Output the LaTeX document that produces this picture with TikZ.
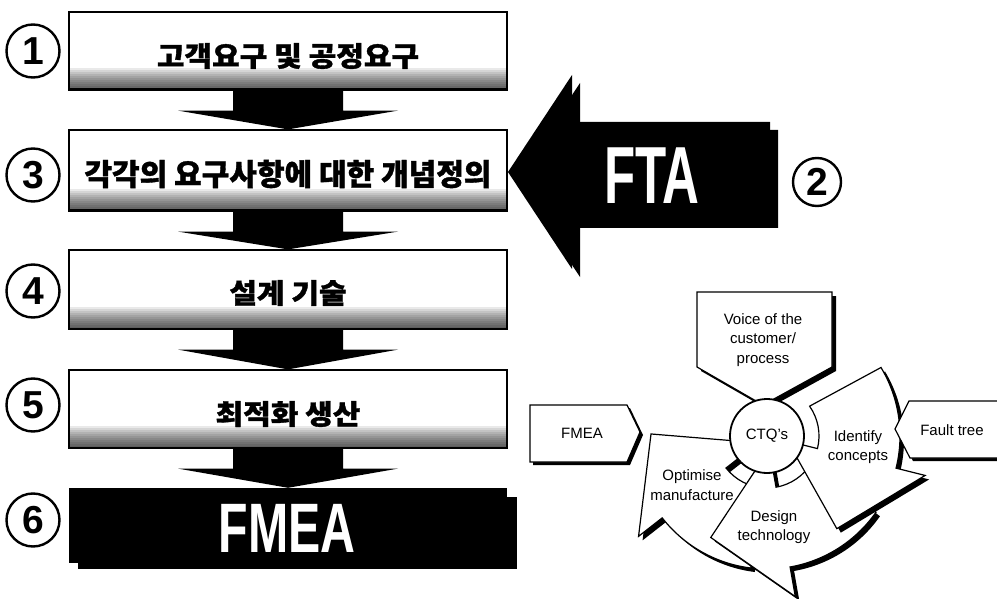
\documentclass[tikz,border=0pt]{standalone}
\usepackage{fontspec}
\setmainfont{Liberation Sans}
\newfontfamily\krfont{Noto Sans CJK KR}[BoldFeatures={FakeBold=1.2}]
\usetikzlibrary{calc}
\tikzset{
  stepbox/.style={draw, line width=1.2pt, minimum width=438pt, minimum height=78pt, inner sep=0pt,
    path picture={\foreach \k in {2,4,...,22}
        \fill[black, fill opacity=0.085] (path picture bounding box.south west)
          rectangle ($(path picture bounding box.south east)+(0,-\k)$);
      \draw[line width=3pt] (path picture bounding box.south west) -- (path picture bounding box.south east);}},
  blackbox/.style={fill=black, minimum width=438pt, minimum height=75pt, inner sep=0pt},
  krlabel/.style={font=\krfont\bfseries\fontsize{30}{34}\selectfont, inner sep=0pt},
  numcirc/.style={draw, circle, line width=2.4pt, minimum size=53pt, inner sep=0pt,
    font=\bfseries\fontsize{39}{39}\selectfont},
  bigwhite/.style={text=white, inner sep=0pt},
  cyctext/.style={align=center, font=\fontsize{15}{19.5}\selectfont, inner sep=0pt},
  cycshape/.style={fill=white, line width=1.2pt},
}
\begin{document}
\begin{tikzpicture}[x=1pt, y=-1pt]
  \useasboundingbox (0,0) rectangle (997,599);
  % left column of steps
  \node[stepbox] (b1) at (288,51) {};
  \node[stepbox, minimum height=81pt] (b3) at (288,170.5) {};
  \node[stepbox, minimum height=79pt] (b4) at (288,289.5) {};
  \node[stepbox] (b5) at (288,409) {};
  \node[blackbox] (b6) at (288,525.5) {};
  \fill ($(b6.north east)+(0,9)$) rectangle ($(b6.south east)+(10,6)$);
  \fill ($(b6.south west)+(9,0)$) rectangle ($(b6.south east)+(10,6)$);
  \foreach \a/\b in {b1/b3,b3/b4,b4/b5,b5/b6}
    \fill ($(\a.south)+(-55,0)$) -- ($(\a.south)+(55,0)$) -- ($(\a.south)+(55,20)$)
      -- ($(\a.south)+(110,20)$) -- (\b.north) -- ($(\a.south)+(-110,20)$)
      -- ($(\a.south)+(-55,20)$) -- cycle;
  \node[krlabel] (t1) at (288,56) {\scalebox{1}[0.92]{고객요구 및 공정요구}};
  \node[krlabel] (t3) at (288,174) {각각의 요구사항에 대한 개념정의};
  \node[krlabel] (t4) at (288,293) {\scalebox{1}[0.92]{설계 기술}};
  \node[krlabel] (t5) at (288,414) {\scalebox{1}[0.92]{최적화 생산}};
  \node[bigwhite, font=\bfseries\fontsize{70}{70}\selectfont] (t6) at (287,528) {\scalebox{0.69}[1]{FMEA}};
  \foreach \n/\y in {1/51,3/175,4/291,5/405,6/520}
    \node[numcirc] (n\n) at (33,\y) {\n};
  % FTA arrow
  \foreach \s in {8,0}
    \fill[shift={(\s,\s)}] (508,172) -- (572,75) -- (572,122) -- (770,122) -- (770,220)
      -- (572,220) -- (572,269) -- cycle;
  \node[bigwhite, font=\bfseries\fontsize{81}{81}\selectfont] (fta) at (652,176) {\scalebox{0.63}[1]{FTA}};
  \node[numcirc, minimum size=48pt] (n2) at (817,182) {2};
  % cycle round the CTQ's
  \begin{scope}[shift={(767,436)}]
    \foreach \b/\g in {142/173,80/109,14/36}{
      \fill[shift={(4,4)}] (\b-49:52) -- (\b-45:133) arc[start angle=\b-45, end angle=\b, radius=133]
        -- (\b:163) -- (\b+39:116) -- (\g:37) -- (\b:30) -- (\b:52)
        arc[start angle=\b, end angle=\b-49, radius=52] -- cycle;
      \filldraw[cycshape] (\b-49:52) -- (\b-45:133) arc[start angle=\b-45, end angle=\b, radius=133]
        -- (\b:163) -- (\b+39:116) -- (\g:37) -- (\b:30) -- (\b:52)
        arc[start angle=\b, end angle=\b-49, radius=52] -- cycle;
    }
  \end{scope}
  \fill[shift={(4,4)}] (697,292) -- (832,292) -- (832,367) -- (763,405) -- (697,367) -- cycle;
  \filldraw[cycshape] (697,292) -- (832,292) -- (832,367) -- (763,405) -- (697,367) -- cycle;
  \fill[shift={(3,3)}] (530,405) -- (627,405) -- (640,432) -- (627,462) -- (530,462) -- cycle;
  \filldraw[cycshape] (530,405) -- (627,405) -- (640,432) -- (627,462) -- (530,462) -- cycle;
  \fill[shift={(3,3)}] (895,429) -- (909,401) -- (1010,401) -- (1010,458) -- (910,458) -- cycle;
  \filldraw[cycshape] (895,429) -- (909,401) -- (1010,401) -- (1010,458) -- (910,458) -- cycle;
  \node[draw, circle, fill=white, line width=1.8pt, minimum size=74pt, inner sep=0pt,
    font=\fontsize{15}{15}\selectfont] (ctq) at (767,436) {CTQ's};
  \node[cyctext] (voice) at (763,340) {Voice of the\\customer/\\process};
  \node[cyctext] (ident) at (858,447) {Identify\\concepts};
  \node[cyctext] (design) at (774,527) {Design\\technology};
  \node[cyctext] (optim) at (692,485) {Optimise\\manufacture};
  \node[cyctext] (fmea) at (582,433) {FMEA};
  \node[cyctext] (fault) at (952,430) {Fault tree};
\end{tikzpicture}
\end{document}
